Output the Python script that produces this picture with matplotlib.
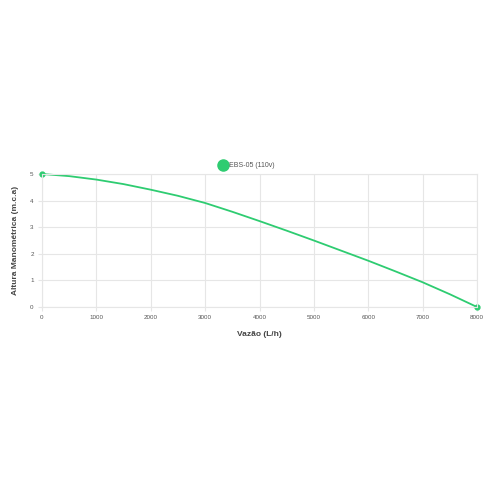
import matplotlib
matplotlib.use("Agg")
import matplotlib.pyplot as plt
from matplotlib.lines import Line2D

plt.rcParams['font.family'] = ['Liberation Sans', 'DejaVu Sans']

# vazao (L/h) vs altura manometrica (m.c.a)
vazao = [0, 500, 1000, 1500, 2000, 2500, 3000, 3500, 4000,
         4500, 5000, 5500, 6000, 6500, 7000, 7500, 8000]
altura = [5.0, 4.92, 4.79, 4.62, 4.41, 4.18, 3.91, 3.58, 3.23,
          2.87, 2.50, 2.12, 1.74, 1.34, 0.93, 0.48, 0.0]
serie = 'EBS-05 (110v)'
cor = '#2ecc71'

fig = plt.figure(figsize=(5, 5), dpi=100)
ax = fig.add_axes([0.084, 0.386, 0.87, 0.266])

ax.plot(vazao, altura, color=cor, lw=1.3, marker='o', markersize=3.5,
        markevery=[0, len(vazao) - 1], clip_on=False)

ax.set_xlim(0, 8000)
ax.set_ylim(0, 5)
ax.set_xticks(range(0, 8001, 1000))
ax.set_yticks(range(0, 6))
ax.grid(color='#e6e6e6', lw=0.8)
for s in ax.spines.values():
    s.set_color('#e6e6e6')
ax.tick_params(length=3, color='#e6e6e6', labelsize=4.5, labelcolor='#555555', pad=3)

ax.set_xlabel('Vazão (L/h)', fontsize=6, fontweight='bold', color='#444444', labelpad=8)
ax.set_ylabel('Altura Manométrica (m.c.a)', fontsize=6, fontweight='bold', color='#444444', labelpad=8)

handle = Line2D([], [], ls='none', marker='o', markersize=8, color=cor)
ax.legend([handle], [serie], loc='lower center', bbox_to_anchor=(0.472, 1.0), frameon=False,
          fontsize=5, handlelength=0.8, handletextpad=0.4, borderaxespad=0.3,
          labelcolor='#555555')

fig.savefig('out.png')
